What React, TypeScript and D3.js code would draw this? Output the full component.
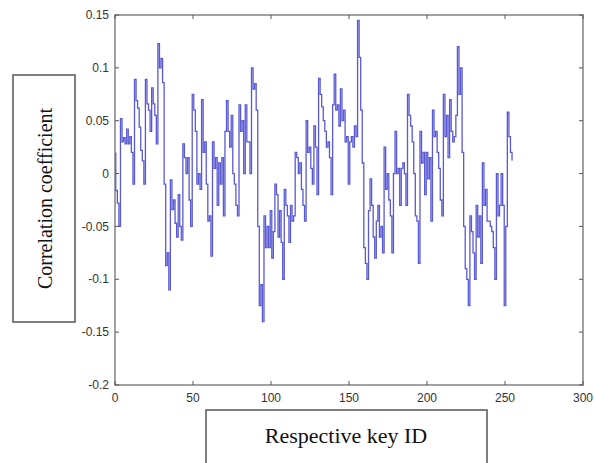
import React from "react";
import * as d3 from "d3";

const values: number[] = [
  0.019, -0.016, -0.028, -0.05, 0.052, 0.03, 0.034, 0.028, 0.042, 0.028,
  0.035, 0.02, -0.01, 0.089, 0.069, 0.062, 0.044, 0.022, 0.012, -0.01,
  0.089, 0.066, 0.06, 0.04, 0.081, 0.066, 0.055, 0.028, 0.123, 0.1,
  0.109, 0.086, -0.01, -0.087, -0.075, -0.11, -0.006, -0.034, -0.025, -0.047,
  -0.06, -0.02, -0.05, -0.063, 0.028, 0.015, 0.0, 0.015, -0.025, -0.05,
  0.075, 0.06, 0.04, -0.01, 0.0, -0.015, 0.07, 0.02, 0.03, -0.01,
  -0.045, -0.04, -0.078, 0.03, 0.005, 0.015, -0.03, 0.01, -0.01, 0.015,
  -0.04, 0.04, 0.069, 0.04, 0.025, 0.055, 0.0, -0.01, -0.03, -0.04,
  0.065, 0.04, 0.05, 0.0, 0.065, 0.03, 0.03, 0.0, 0.1, 0.08,
  0.085, 0.06, -0.05, -0.125, -0.105, -0.14, -0.04, -0.07, -0.05, -0.07,
  -0.035, -0.08, -0.055, -0.01, -0.02, -0.06, -0.035, -0.065, -0.1, -0.015,
  -0.03, -0.04, -0.065, -0.03, -0.045, -0.04, 0.02, 0.015, 0.0, 0.01,
  -0.015, -0.03, -0.045, 0.05, 0.02, 0.025, 0.005, -0.01, 0.045, 0.025,
  -0.02, 0.09, 0.075, 0.063, 0.05, 0.04, 0.025, 0.03, 0.015, -0.02,
  0.065, 0.094, 0.06, 0.065, 0.045, 0.08, 0.05, 0.06, 0.03, 0.035,
  -0.01, 0.03, 0.035, 0.025, 0.045, 0.035, 0.145, 0.11, 0.06, 0.01,
  -0.07, -0.085, -0.1, -0.035, -0.005, -0.03, -0.06, -0.08, -0.045, -0.03,
  -0.06, -0.05, -0.075, 0.025, -0.015, 0.0, -0.025, -0.04, -0.075, 0.0,
  0.04, 0.0, 0.005, -0.03, 0.005, 0.01, 0.0, -0.03, 0.075, 0.055,
  0.045, 0.03, 0.0, -0.04, -0.045, -0.085, 0.04, 0.01, 0.02, -0.02,
  0.02, -0.005, 0.015, -0.045, 0.06, 0.035, 0.04, 0.02, 0.005, -0.025,
  -0.04, 0.075, 0.035, 0.055, 0.015, 0.07, 0.04, 0.03, 0.035, 0.055,
  0.12, 0.075, 0.1, 0.02, -0.05, -0.09, -0.1, -0.125, -0.04, -0.055,
  -0.075, -0.1, -0.03, -0.06, -0.04, -0.085, 0.01, -0.03, -0.015, -0.045,
  -0.045, -0.05, -0.055, -0.07, -0.1, 0.0, -0.04, -0.03, 0.0, -0.03,
  -0.125, -0.05, 0.058, 0.035, 0.02, 0.013,
];

const xTicks: number[] = [0, 50, 100, 150, 200, 250, 300];
const yTicks: number[] = [0.15, 0.1, 0.05, 0, -0.05, -0.1, -0.15, -0.2];
const yLabel = "Correlation coefficient";
const xLabel = "Respective key ID";

const W = 594;
const H = 463;
const left = 115;
const right = 583;
const top = 15;
const bottom = 385;

export default function App() {
  const x = d3.scaleLinear().domain([0, 300]).range([left, right]);
  const y = d3.scaleLinear().domain([-0.2, 0.15]).range([bottom, top]);
  const line = d3
    .line<number>()
    .x((_, i) => x(i))
    .y((d) => y(d))
    .curve(d3.curveStep);
  const tickLen = 4;
  const fmt = (v: number) => String(+v.toFixed(2));
  return (
    <svg
      width={W}
      height={H}
      style={{ position: "absolute", left: 0, top: 0, background: "#fff" }}
    >
      <rect x={0} y={0} width={W} height={H} fill="#fff" />
      <path
        d={line(values) || ""}
        fill="none"
        stroke="#3030c8"
        strokeWidth={1.3}
        strokeOpacity={0.8}
      />
      <rect
        x={left}
        y={top}
        width={right - left}
        height={bottom - top}
        fill="none"
        stroke="#707070"
        strokeWidth={1.3}
      />
      {xTicks.map((t) => (
        <g key={"x" + t}>
          <line x1={x(t)} x2={x(t)} y1={bottom} y2={bottom - tickLen} stroke="#555" />
          <line x1={x(t)} x2={x(t)} y1={top} y2={top + tickLen} stroke="#555" />
          <text
            x={x(t)}
            y={bottom + 17}
            textAnchor="middle"
            fontFamily="Liberation Sans, Arial, sans-serif"
            fontSize={12}
            fill="#333"
          >
            {t}
          </text>
        </g>
      ))}
      {yTicks.map((t) => (
        <g key={"y" + t}>
          <line x1={left} x2={left + tickLen} y1={y(t)} y2={y(t)} stroke="#555" />
          <line x1={right} x2={right - tickLen} y1={y(t)} y2={y(t)} stroke="#555" />
          <text
            x={left - 6}
            y={y(t)}
            dy="0.35em"
            textAnchor="end"
            fontFamily="Liberation Sans, Arial, sans-serif"
            fontSize={12}
            fill="#333"
          >
            {fmt(t)}
          </text>
        </g>
      ))}
      <rect x={13} y={75} width={62} height={247} fill="#fff" stroke="#555" strokeWidth={1.5} />
      <text
        transform={`translate(52,${(75 + 322) / 2}) rotate(-90)`}
        textAnchor="middle"
        fontFamily="Liberation Serif, Times New Roman, serif"
        fontSize={20}
        fill="#111"
      >
        {yLabel}
      </text>
      <rect x={206} y={410} width={281} height={60} fill="#fff" stroke="#555" strokeWidth={1.5} />
      <text
        x={346}
        y={443}
        textAnchor="middle"
        fontFamily="Liberation Serif, Times New Roman, serif"
        fontSize={22}
        fill="#111"
      >
        {xLabel}
      </text>
    </svg>
  );
}
